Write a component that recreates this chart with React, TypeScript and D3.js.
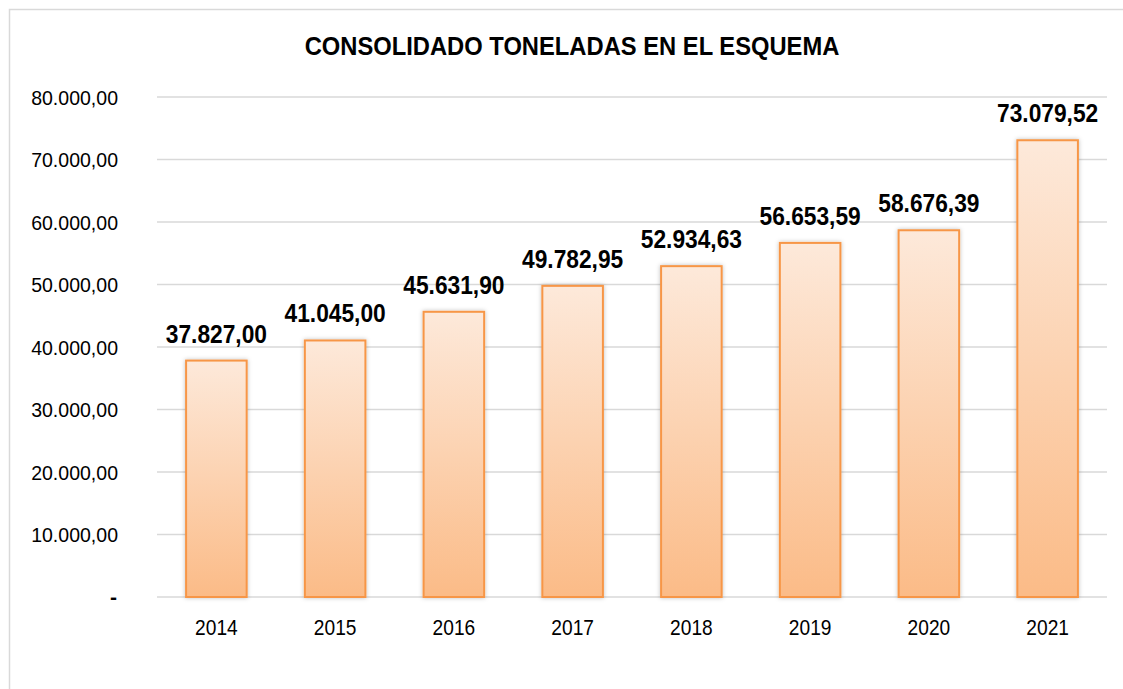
import React from "react";
import * as d3 from "d3";

const years = ["2014", "2015", "2016", "2017", "2018", "2019", "2020", "2021"];
const tons = [37827.0, 41045.0, 45631.9, 49782.95, 52934.63, 56653.59, 58676.39, 73079.52];
const yTicks = [0, 10000, 20000, 30000, 40000, 50000, 60000, 70000, 80000];
const title = "CONSOLIDADO TONELADAS EN EL ESQUEMA";

const W = 1123;
const H = 689;
const m = { left: 157, right: 1107, top: 97, bottom: 597 };
const FONT = "'Liberation Sans', Arial, sans-serif";

const fmt = (v: number) => {
  if (v === 0) return "-";
  const [i, d] = v.toFixed(2).split(".");
  const withDots = i.replace(/\B(?=(\d{3})+(?!\d))/g, ".");
  return `${withDots},${d}`;
};

function T(props: { x: number; y: number; sx: number; size: number; anchor: string; bold?: boolean; children: React.ReactNode }) {
  return (
    <text
      transform={`translate(${props.x},${props.y}) scale(${props.sx},1)`}
      textAnchor={props.anchor}
      fontFamily={FONT}
      fontWeight={props.bold ? "bold" : "normal"}
      fontSize={props.size}
      fill="#000"
    >
      {props.children}
    </text>
  );
}

export default function App() {
  const x = d3.scaleBand<string>().domain(years).range([m.left, m.right]).paddingInner(0.49).paddingOuter(0.245);
  const y = d3.scaleLinear().domain([0, 80000]).range([m.bottom, m.top]);
  return (
    <svg width={W} height={H} style={{ position: "absolute", left: 0, top: 0, background: "#fff" }}>
      <defs>
        <linearGradient id="barGrad" x1="0" y1="0" x2="0" y2="1">
          <stop offset="0" stopColor="#fde9da" />
          <stop offset="1" stopColor="#fbbb87" />
        </linearGradient>
        <filter id="shadow" x="-20%" y="-5%" width="140%" height="110%">
          <feDropShadow dx="0" dy="0" stdDeviation="2" floodColor="#000" floodOpacity="0.25" />
        </filter>
      </defs>
      <rect x={9.5} y={9.5} width={W + 20} height={H + 20} fill="#fff" stroke="#d9d9d9" strokeWidth={1.5} />
      <T x={572} y={55} sx={0.95} size={25} anchor="middle" bold>
        {title}
      </T>
      {yTicks.map((t) => (
        <g key={t}>
          <line x1={m.left} x2={m.right} y1={y(t)} y2={y(t)} stroke="#d9d9d9" strokeWidth={1.3} />
          {t === 0 ? (
            <T x={117} y={y(t) + 7} sx={1} size={21} anchor="end" bold>
              {fmt(t)}
            </T>
          ) : (
            <T x={118} y={y(t) + 7.5} sx={0.93} size={21} anchor="end">
              {fmt(t)}
            </T>
          )}
        </g>
      ))}
      {years.map((yr, i) => {
        const bx = x(yr)!;
        const bw = x.bandwidth();
        const top = y(tons[i]);
        return (
          <g key={yr}>
            <rect x={bx} y={top} width={bw} height={y(0) - top} fill="url(#barGrad)" stroke="#f79646" strokeWidth={2} filter="url(#shadow)" />
            <T x={bx + bw / 2} y={top - 18} sx={0.91} size={25} anchor="middle" bold>
              {fmt(tons[i])}
            </T>
            <T x={bx + bw / 2} y={635} sx={0.87} size={22} anchor="middle">
              {yr}
            </T>
          </g>
        );
      })}
    </svg>
  );
}
